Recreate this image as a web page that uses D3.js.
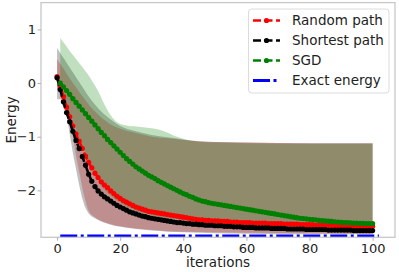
<!DOCTYPE html>
<html>
<head>
<meta charset="utf-8">
<script src="https://cdn.jsdelivr.net/npm/d3@7"></script>
<style>
  body { margin: 0; background: #fff; }
  svg { font-family: 'DejaVu Sans', sans-serif; }
</style>
</head>
<body>
<svg width="399" height="272"></svg>
<script>
const width = 399;
const height = 272;
const margin = {left: 41, right: 4, top: 2.6, bottom: 34.7};

// data
const seriesNames = ['Random path', 'Shortest path', 'SGD', 'Exact energy'];
const seriesColors = ['red', 'black', 'green', 'blue'];

const randomIters = d3.range(0, 101);
const randomPath = [
  0.12, -0.05, -0.25, -0.45, -0.63, -0.8, -0.95, -1.08, -1.22, -1.36,
  -1.48, -1.58, -1.68, -1.76, -1.84, -1.9, -1.95, -2.01, -2.06, -2.11,
  -2.15, -2.19, -2.22, -2.25, -2.28, -2.31, -2.33, -2.35, -2.37, -2.39,
  -2.4, -2.41, -2.42, -2.43, -2.44, -2.45, -2.46, -2.47, -2.48, -2.49,
  -2.5, -2.51, -2.52, -2.53, -2.54, -2.55, -2.55, -2.56, -2.56, -2.57,
  -2.57, -2.57, -2.58, -2.58, -2.58, -2.59, -2.59, -2.59, -2.6, -2.6,
  -2.6, -2.6, -2.61, -2.61, -2.61, -2.61, -2.61, -2.62, -2.62, -2.62,
  -2.62, -2.62, -2.63, -2.63, -2.63, -2.63, -2.63, -2.64, -2.64, -2.64,
  -2.64, -2.64, -2.65, -2.65, -2.65, -2.65, -2.65, -2.65, -2.66, -2.66,
  -2.66, -2.66, -2.66, -2.66, -2.66, -2.67, -2.67, -2.67, -2.67, -2.67,
  -2.67
];

const shortestIters = d3.range(0, 101);
const shortestPath = [
  0.1, -0.12, -0.35, -0.55, -0.72, -0.9, -1.07, -1.22, -1.37, -1.53,
  -1.7, -1.83, -1.93, -2.01, -2.07, -2.12, -2.16, -2.2, -2.24, -2.28,
  -2.31, -2.34, -2.37, -2.4, -2.42, -2.44, -2.46, -2.48, -2.49, -2.51,
  -2.52, -2.53, -2.54, -2.55, -2.56, -2.57, -2.58, -2.59, -2.6, -2.6,
  -2.61, -2.62, -2.62, -2.63, -2.63, -2.64, -2.64, -2.65, -2.65, -2.65,
  -2.66, -2.66, -2.66, -2.67, -2.67, -2.67, -2.68, -2.68, -2.68, -2.69,
  -2.69, -2.69, -2.69, -2.7, -2.7, -2.7, -2.7, -2.7, -2.71, -2.71,
  -2.71, -2.71, -2.71, -2.72, -2.72, -2.72, -2.72, -2.72, -2.72, -2.73,
  -2.73, -2.73, -2.73, -2.73, -2.73, -2.73, -2.74, -2.74, -2.74, -2.74,
  -2.74, -2.74, -2.74, -2.74, -2.75, -2.75, -2.75, -2.75, -2.75, -2.75,
  -2.75
];

const sgdIters = d3.range(1, 101);
const sgd = [
  0.0, -0.07, -0.14, -0.21, -0.29, -0.36, -0.43, -0.5, -0.57, -0.64,
  -0.71, -0.78, -0.85, -0.92, -0.98, -1.05, -1.11, -1.17, -1.23, -1.29,
  -1.35, -1.41, -1.46, -1.51, -1.56, -1.6, -1.64, -1.68, -1.72, -1.75,
  -1.78, -1.82, -1.85, -1.88, -1.91, -1.94, -1.97, -2.0, -2.03, -2.06,
  -2.08, -2.11, -2.13, -2.16, -2.18, -2.2, -2.21, -2.23, -2.24, -2.25,
  -2.26, -2.27, -2.28, -2.29, -2.3, -2.31, -2.32, -2.33, -2.34, -2.35,
  -2.36, -2.37, -2.38, -2.39, -2.4, -2.41, -2.42, -2.43, -2.44, -2.45,
  -2.46, -2.47, -2.48, -2.49, -2.5, -2.51, -2.52, -2.525, -2.53, -2.54,
  -2.545, -2.55, -2.56, -2.565, -2.57, -2.575, -2.58, -2.585, -2.59, -2.595,
  -2.6, -2.6, -2.605, -2.61, -2.61, -2.615, -2.615, -2.62, -2.62, -2.62
];

const exactIters = [1, 102];
const exactEnergy = [-2.85, -2.85];

// spread bands
const pathBandIters = [0, 1, 2, 3, 4, 5, 6, 7, 8, 9, 10, 12, 14, 17, 20, 25, 30, 35, 40, 50, 60, 80, 100];
const randomUpper = [0.45, 0.36, 0.27, 0.18, 0.09, 0.0, -0.08, -0.16, -0.24, -0.32, -0.4, -0.53, -0.64, -0.77, -0.85, -0.93, -1.0, -1.03, -1.06, -1.1, -1.11, -1.12, -1.12];
const randomLower = [-0.1, -0.2, -0.35, -0.5, -0.7, -1.0, -1.35, -1.65, -1.95, -2.2, -2.38, -2.5, -2.57, -2.63, -2.67, -2.71, -2.74, -2.76, -2.77, -2.78, -2.79, -2.8, -2.81];
const shortestUpper = [0.66, 0.56, 0.47, 0.38, 0.29, 0.2, 0.11, 0.02, -0.07, -0.16, -0.25, -0.4, -0.53, -0.68, -0.8, -0.9, -0.97, -1.01, -1.05, -1.1, -1.11, -1.12, -1.12];
const shortestLower = [-0.3, -0.3, -0.45, -0.6, -0.95, -1.3, -1.6, -1.9, -2.15, -2.33, -2.43, -2.52, -2.58, -2.64, -2.68, -2.72, -2.75, -2.77, -2.78, -2.8, -2.81, -2.82, -2.82];

const sgdBandIters = [1, 2, 4, 6, 8, 10, 11, 13, 15, 17, 19, 22, 25, 28, 33, 38, 43, 50, 60, 80, 100];
const sgdUpper = [0.84, 0.76, 0.6, 0.45, 0.3, 0.14, 0.05, -0.15, -0.4, -0.6, -0.73, -0.79, -0.81, -0.83, -0.88, -1.0, -1.08, -1.11, -1.12, -1.13, -1.13];
const sgdLower = [-0.1, -0.25, -0.55, -0.85, -1.15, -1.45, -1.58, -1.82, -1.98, -2.1, -2.19, -2.3, -2.38, -2.43, -2.5, -2.54, -2.58, -2.62, -2.65, -2.68, -2.71];

const xTicks = [0, 20, 40, 60, 80, 100];
const yTicks = [1, 0, -1, -2];

const svg = d3.select('svg');

//Setting up scales
const xScale = d3.scaleLinear()
                 .domain([-5.1, 107.1])
                 .range([margin.left, width - margin.right]);
const yScale = d3.scaleLinear()
                 .domain([-2.875, 1.5])
                 .range([height - margin.bottom, margin.top]);

svg.append('clipPath').attr('id', 'plot-clip')
   .append('rect')
   .attr('x', margin.left).attr('y', margin.top)
   .attr('width', width - margin.left - margin.right)
   .attr('height', height - margin.top - margin.bottom);

const plot = svg.append('g').attr('clip-path', 'url(#plot-clip)');

//Bands
const bands = [
  {iters: pathBandIters, upper: randomUpper, lower: randomLower, color: 'red'},
  {iters: pathBandIters, upper: shortestUpper, lower: shortestLower, color: 'black'},
  {iters: sgdBandIters, upper: sgdUpper, lower: sgdLower, color: 'green'}
];

const area = d3.area()
               .x(d => xScale(d.x))
               .y0(d => yScale(d.lo))
               .y1(d => yScale(d.hi))
               .curve(d3.curveMonotoneX);

bands.forEach(b => {
  const pts = b.iters.map((x, i) => ({x: x, hi: b.upper[i], lo: b.lower[i]}));
  plot.append('path')
      .attr('d', area(pts))
      .attr('fill', b.color)
      .attr('fill-opacity', 0.25);
});

//Lines with markers
const line = d3.line().x(d => xScale(d[0])).y(d => yScale(d[1]));

const series = [
  {iters: randomIters, values: randomPath, color: 'red'},
  {iters: shortestIters, values: shortestPath, color: 'black'},
  {iters: sgdIters, values: sgd, color: 'green'}
];

series.forEach(s => {
  const pts = s.iters.map((x, i) => [x, s.values[i]]);
  plot.append('path')
      .attr('d', line(pts))
      .attr('fill', 'none')
      .attr('stroke', s.color)
      .attr('stroke-width', 2.6)
      .attr('stroke-dasharray', '8,3.5');
  plot.append('g').selectAll('circle')
      .data(pts)
      .enter()
      .append('circle')
      .attr('cx', d => xScale(d[0]))
      .attr('cy', d => yScale(d[1]))
      .attr('r', 2.6)
      .attr('fill', s.color);
});

plot.append('path')
    .attr('d', line(exactIters.map((x, i) => [x, exactEnergy[i]])))
    .attr('fill', 'none')
    .attr('stroke', 'blue')
    .attr('stroke-width', 3)
    .attr('stroke-dasharray', '17,3.5,3,3.5');

//Frame
svg.append('rect')
   .attr('x', margin.left).attr('y', margin.top)
   .attr('width', width - margin.left - margin.right)
   .attr('height', height - margin.top - margin.bottom)
   .attr('fill', 'none')
   .attr('stroke', '#c8c8c8')
   .attr('stroke-width', 1.3);

//Axes
const xAxis = d3.axisBottom(xScale).tickValues(xTicks).tickSize(3.5).tickPadding(2.5).tickSizeOuter(0);
const yAxis = d3.axisLeft(yScale).tickValues(yTicks).tickSize(3.5).tickPadding(1.5).tickSizeOuter(0)
                .tickFormat(d => d3.format('d')(d).replace('-', '\u2212'));

const gx = svg.append('g').attr('transform', `translate(0, ${height - margin.bottom})`).call(xAxis);
const gy = svg.append('g').attr('transform', `translate(${margin.left}, 0)`).call(yAxis);

[gx, gy].forEach(g => {
  g.select('.domain').remove();
  g.selectAll('line').attr('stroke', '#b0b0b0');
  g.selectAll('text').attr('fill', '#222').style('font-size', '13px')
   .style('font-family', "'DejaVu Sans', sans-serif");
});

//Axis titles
svg.append('text')
   .attr('x', (margin.left + width - margin.right) / 2)
   .attr('y', 266.5)
   .style('text-anchor', 'middle')
   .style('font-size', '13.5px')
   .attr('fill', '#222')
   .text('iterations');

svg.append('text')
   .attr('transform', 'rotate(-90)')
   .attr('x', -(margin.top + height - margin.bottom) / 2)
   .attr('y', 15.5)
   .style('text-anchor', 'middle')
   .style('font-size', '13.5px')
   .attr('fill', '#222')
   .text('Energy');

//Legend
const legend = svg.append('g');
legend.append('rect')
      .attr('x', 248.5).attr('y', 9)
      .attr('width', 140.5).attr('height', 84)
      .attr('rx', 3)
      .attr('fill', 'white').attr('fill-opacity', 0.8)
      .attr('stroke', '#dcdcdc');

seriesNames.forEach((name, i) => {
  const y = 20.5 + i * 20;
  const dash = i < 3 ? '8,3.5' : '17,3.5,3,3.5';
  legend.append('line')
        .attr('x1', 253).attr('x2', 280)
        .attr('y1', y).attr('y2', y)
        .attr('stroke', seriesColors[i])
        .attr('stroke-width', i < 3 ? 2.6 : 3)
        .attr('stroke-dasharray', dash);
  if (i < 3) {
    legend.append('circle')
          .attr('cx', 266.5).attr('cy', y).attr('r', 2.6)
          .attr('fill', seriesColors[i]);
  }
  legend.append('text')
        .attr('x', 292).attr('y', y)
        .attr('dy', '0.36em')
        .style('font-size', '13.5px')
        .attr('fill', '#222')
        .text(name);
});
</script>
</body>
</html>
